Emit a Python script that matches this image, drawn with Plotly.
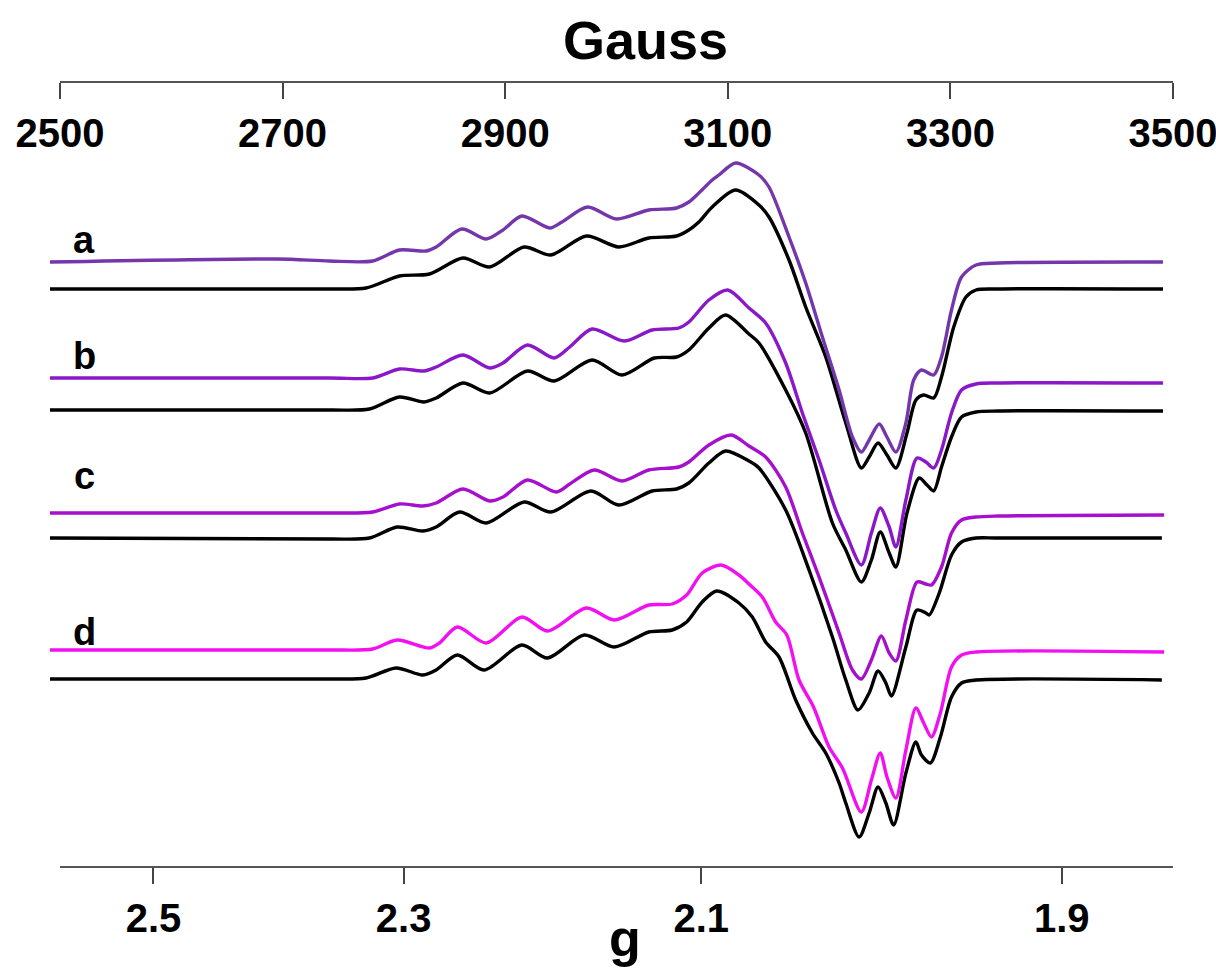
import plotly.graph_objects as go

# ---------------------------------------------------------------------------
# X-band EPR spectra (first derivative) of four Cu(II) samples a-d.
# Each sample: experimental trace (coloured) and simulation (black).
# Field in gauss, intensity in arbitrary units.
# ---------------------------------------------------------------------------
a_exp_field = [2491, 2695, 2742, 2781, 2805, 2829, 2838, 2861, 2883, 2898, 2915, 2940, 2951, 2974,
               3000, 3029, 3054, 3065, 3074, 3086, 3092, 3107, 3128, 3137, 3155, 3170, 3185, 3200,
               3212, 3220, 3227, 3236, 3243, 3251, 3260, 3267, 3274, 3285, 3292, 3301, 3310, 3323,
               3343, 3491]
a_exp_int = [0, 3, 1, 1, 12, 11, 15, 33, 23, 32, 46, 34, 40, 55,
             43, 52, 54, 60, 69, 82, 87, 99, 87, 75, 25, -21, -75, -128,
             -175, -190, -178, -162, -175, -190, -161, -118, -108, -113, -95, -48, -15, -3,
             -1, 0]

a_sim_field = [2491, 2742, 2775, 2805, 2832, 2862, 2886, 2917, 2941, 2973, 3002, 3029, 3054, 3065,
               3074, 3086, 3107, 3128, 3137, 3155, 3170, 3188, 3206, 3220, 3227, 3235, 3243, 3251,
               3261, 3269, 3276, 3285, 3292, 3303, 3314, 3323, 3343, 3491]
a_sim_int = [0, 0, 1, 13, 15, 31, 22, 42, 34, 53, 42, 51, 53, 59,
             67, 82, 99, 84, 72, 29, -18, -68, -134, -179, -168, -154, -166, -179,
             -144, -111, -106, -109, -88, -38, -8, -1, 0, 0]

b_exp_field = [2491, 2742, 2781, 2805, 2827, 2838, 2862, 2886, 2898, 2920, 2944, 2958, 2978, 3007,
               3032, 3056, 3065, 3083, 3100, 3119, 3134, 3152, 3167, 3182, 3197, 3206, 3220, 3229,
               3237, 3245, 3251, 3260, 3270, 3278, 3285, 3292, 3301, 3310, 3323, 3343, 3491]
b_exp_int = [3, 3, 3, 12, 10, 14, 26, 13, 18, 36, 23, 34, 52, 40,
             51, 53, 59, 81, 91, 73, 58, 18, -32, -79, -129, -152, -184, -152,
             -127, -146, -166, -119, -77, -81, -87, -69, -32, -9, -3, -2, -2]

b_sim_field = [2491, 2742, 2778, 2805, 2827, 2838, 2862, 2886, 2920, 2944, 2978, 3005, 3034, 3054,
               3065, 3083, 3098, 3119, 3128, 3152, 3170, 3194, 3206, 3220, 3229, 3237, 3245, 3251,
               3261, 3272, 3279, 3285, 3292, 3301, 3310, 3323, 3343, 3491]
b_sim_int = [0, 0, 1, 13, 8, 12, 27, 17, 39, 29, 50, 35, 52, 53,
             60, 82, 95, 76, 67, 20, -23, -113, -140, -172, -150, -122, -143, -157,
             -103, -68, -75, -81, -57, -27, -7, -2, -1, -1]

c_exp_field = [2491, 2742, 2781, 2805, 2826, 2838, 2862, 2886, 2898, 2920, 2946, 2958, 2980, 3005,
               3029, 3056, 3065, 3083, 3103, 3119, 3134, 3152, 3167, 3182, 3200, 3212, 3220, 3229,
               3238, 3245, 3251, 3260, 3270, 3278, 3283, 3292, 3301, 3310, 3323, 3343, 3492]
c_exp_int = [1, 1, 2, 10, 8, 11, 25, 13, 17, 34, 22, 30, 44, 33,
             44, 47, 52, 69, 79, 68, 57, 27, -19, -63, -119, -156, -165, -146,
             -122, -139, -147, -106, -68, -70, -71, -53, -19, -6, -3, -2, -1]

c_sim_field = [2491, 2742, 2778, 2803, 2826, 2838, 2859, 2883, 2917, 2941, 2977, 3002, 3032, 3054,
               3065, 3083, 3098, 3119, 3128, 3152, 3173, 3194, 3206, 3217, 3227, 3235, 3242, 3247,
               3260, 3270, 3278, 3281, 3290, 3301, 3310, 3323, 3343, 3490]
c_sim_int = [0, -1, 0, 11, 7, 11, 26, 15, 36, 26, 47, 33, 47, 49,
             55, 75, 87, 77, 70, 28, -32, -99, -142, -172, -155, -133, -145, -158,
             -109, -72, -75, -77, -55, -17, -4, 0, 0, 0]

d_exp_field = [2491, 2742, 2781, 2803, 2832, 2841, 2857, 2883, 2915, 2938, 2973, 2998, 3029, 3050,
               3063, 3077, 3094, 3110, 3119, 3131, 3143, 3153, 3164, 3177, 3191, 3203, 3220, 3229,
               3237, 3243, 3251, 3260, 3269, 3276, 3283, 3291, 3301, 3310, 3323, 3492]
d_exp_int = [1, 1, 2, 11, 3, 8, 24, 8, 34, 20, 43, 31, 46, 47,
             56, 78, 86, 76, 67, 54, 29, 16, -29, -56, -96, -117, -161, -129,
             -102, -126, -147, -99, -57, -72, -86, -62, -16, -4, -1, -1]

d_sim_field = [2491, 2742, 2775, 2802, 2826, 2838, 2857, 2881, 2915, 2938, 2971, 2998, 3029, 3050,
               3063, 3077, 3090, 3110, 3122, 3134, 3146, 3161, 3176, 3188, 3200, 3206, 3218, 3227,
               3235, 3242, 3249, 3260, 3269, 3274, 3282, 3291, 3301, 3310, 3323, 3490]
d_sim_int = [0, 0, 1, 11, 4, 9, 24, 9, 34, 21, 44, 32, 47, 49,
             57, 77, 88, 76, 62, 37, 22, -21, -54, -74, -104, -124, -158, -134,
             -108, -124, -146, -94, -63, -76, -84, -58, -18, -4, -1, -1]

sample_labels = ["a", "b", "c", "d"]
gauss_ticks = [2500, 2700, 2900, 3100, 3300, 3500]
g_ticks = [2.5, 2.3, 2.1, 1.9]
H_NU_OVER_BETA = 6460.0  # gauss; B = h*nu / (g*beta)

# ---------------------------------------------------------------------------
W, H = 1216, 970
X0_PX, X1_PX = 60, 1173     # pixel span of the 2500-3500 G axes
PX_PER_G = (X1_PX - X0_PX) / 1000.0
TOP_PX, BOT_PX = 81, 866    # pixel rows of the two field axes

FONT = "Liberation Sans, Arial, Helvetica, sans-serif"

exp_colors = ["#7437ab", "#8a18c9", "#a60fcc", "#f20ff2"]
sim_color = "#000000"
LINE_W = 3.4

# stack: pixel row of each baseline (experimental, simulation)
baselines = [(262, 289), (381, 410), (514, 538), (651, 679)]
label_rows = [240, 356, 476, 632]

series = [
    (a_exp_field, a_exp_int, a_sim_field, a_sim_int),
    (b_exp_field, b_exp_int, b_sim_field, b_sim_int),
    (c_exp_field, c_exp_int, c_sim_field, c_sim_int),
    (d_exp_field, d_exp_int, d_sim_field, d_sim_int),
]

fig = go.Figure()

for i, (ef, ei, sf, si) in enumerate(series):
    be, bs = baselines[i]
    fig.add_trace(go.Scatter(
        x=sf, y=[v - bs for v in si], mode="lines",
        line=dict(color=sim_color, width=LINE_W, shape="spline", smoothing=0.8),
        xaxis="x", yaxis="y", showlegend=False, hoverinfo="skip"))
    fig.add_trace(go.Scatter(
        x=ef, y=[v - be for v in ei], mode="lines",
        line=dict(color=exp_colors[i], width=LINE_W, shape="spline", smoothing=0.8),
        xaxis="x", yaxis="y", showlegend=False, hoverinfo="skip"))

# empty traces so that both field-axis subplots are created
fig.add_trace(go.Scatter(x=[], y=[], xaxis="x2", yaxis="y3", showlegend=False))
fig.add_trace(go.Scatter(x=[], y=[], xaxis="x3", yaxis="y2", showlegend=False))

x_lo = 2500 - X0_PX / PX_PER_G
x_hi = 2500 + (W - X0_PX) / PX_PER_G
axis_dom = [X0_PX / W, X1_PX / W]

tick_font = dict(family=FONT, size=40, color="#000000", weight="bold")
common_axis = dict(
    domain=axis_dom, range=[2500, 3500], side="bottom", tickmode="array",
    ticks="outside", ticklen=16, tickwidth=1.5, tickcolor="#444444",
    tickfont=tick_font, ticklabeloverflow="allow",
    showline=True, linecolor="#555555", linewidth=1.5,
    showgrid=False, zeroline=False, automargin=False)

fig.update_layout(
    width=W, height=H,
    margin=dict(l=0, r=0, t=0, b=0),
    paper_bgcolor="white", plot_bgcolor="rgba(0,0,0,0)",
    xaxis=dict(domain=[0, 1], range=[x_lo, x_hi], visible=False, anchor="y"),
    yaxis=dict(domain=[0, 1], range=[-H, 0], visible=False, anchor="x"),
    # upper strip: its lower edge carries the gauss axis
    yaxis3=dict(domain=[1 - TOP_PX / H, 1], range=[0, 1], visible=False, anchor="x2"),
    # spectrum strip: its lower edge carries the g axis
    yaxis2=dict(domain=[1 - BOT_PX / H, 1 - TOP_PX / H], range=[0, 1],
                visible=False, anchor="x3"),
    xaxis2=dict(common_axis, anchor="y3", tickvals=gauss_ticks,
                ticktext=[str(t) for t in gauss_ticks]),
    xaxis3=dict(common_axis, anchor="y2",
                tickvals=[H_NU_OVER_BETA / g for g in g_ticks],
                ticktext=[f"{g:.1f}" for g in g_ticks]),
)

annotations = [
    dict(text="<b>Gauss</b>", x=645 / W, y=1 - 40 / H, xref="paper", yref="paper",
         showarrow=False, font=dict(family=FONT, size=54, color="#000000"),
         xanchor="center", yanchor="middle"),
    dict(text="<b>g</b>", x=625 / W, y=1 - 938 / H, xref="paper", yref="paper",
         showarrow=False, font=dict(family=FONT, size=52, color="#000000"),
         xanchor="center", yanchor="middle"),
]
for lab, row in zip(sample_labels, label_rows):
    annotations.append(dict(
        text=f"<b>{lab}</b>", x=84 / W, y=1 - row / H, xref="paper", yref="paper",
        showarrow=False, font=dict(family=FONT, size=38, color="#000000"),
        xanchor="center", yanchor="middle"))
fig.update_layout(annotations=annotations)

fig.write_html("out.html")
